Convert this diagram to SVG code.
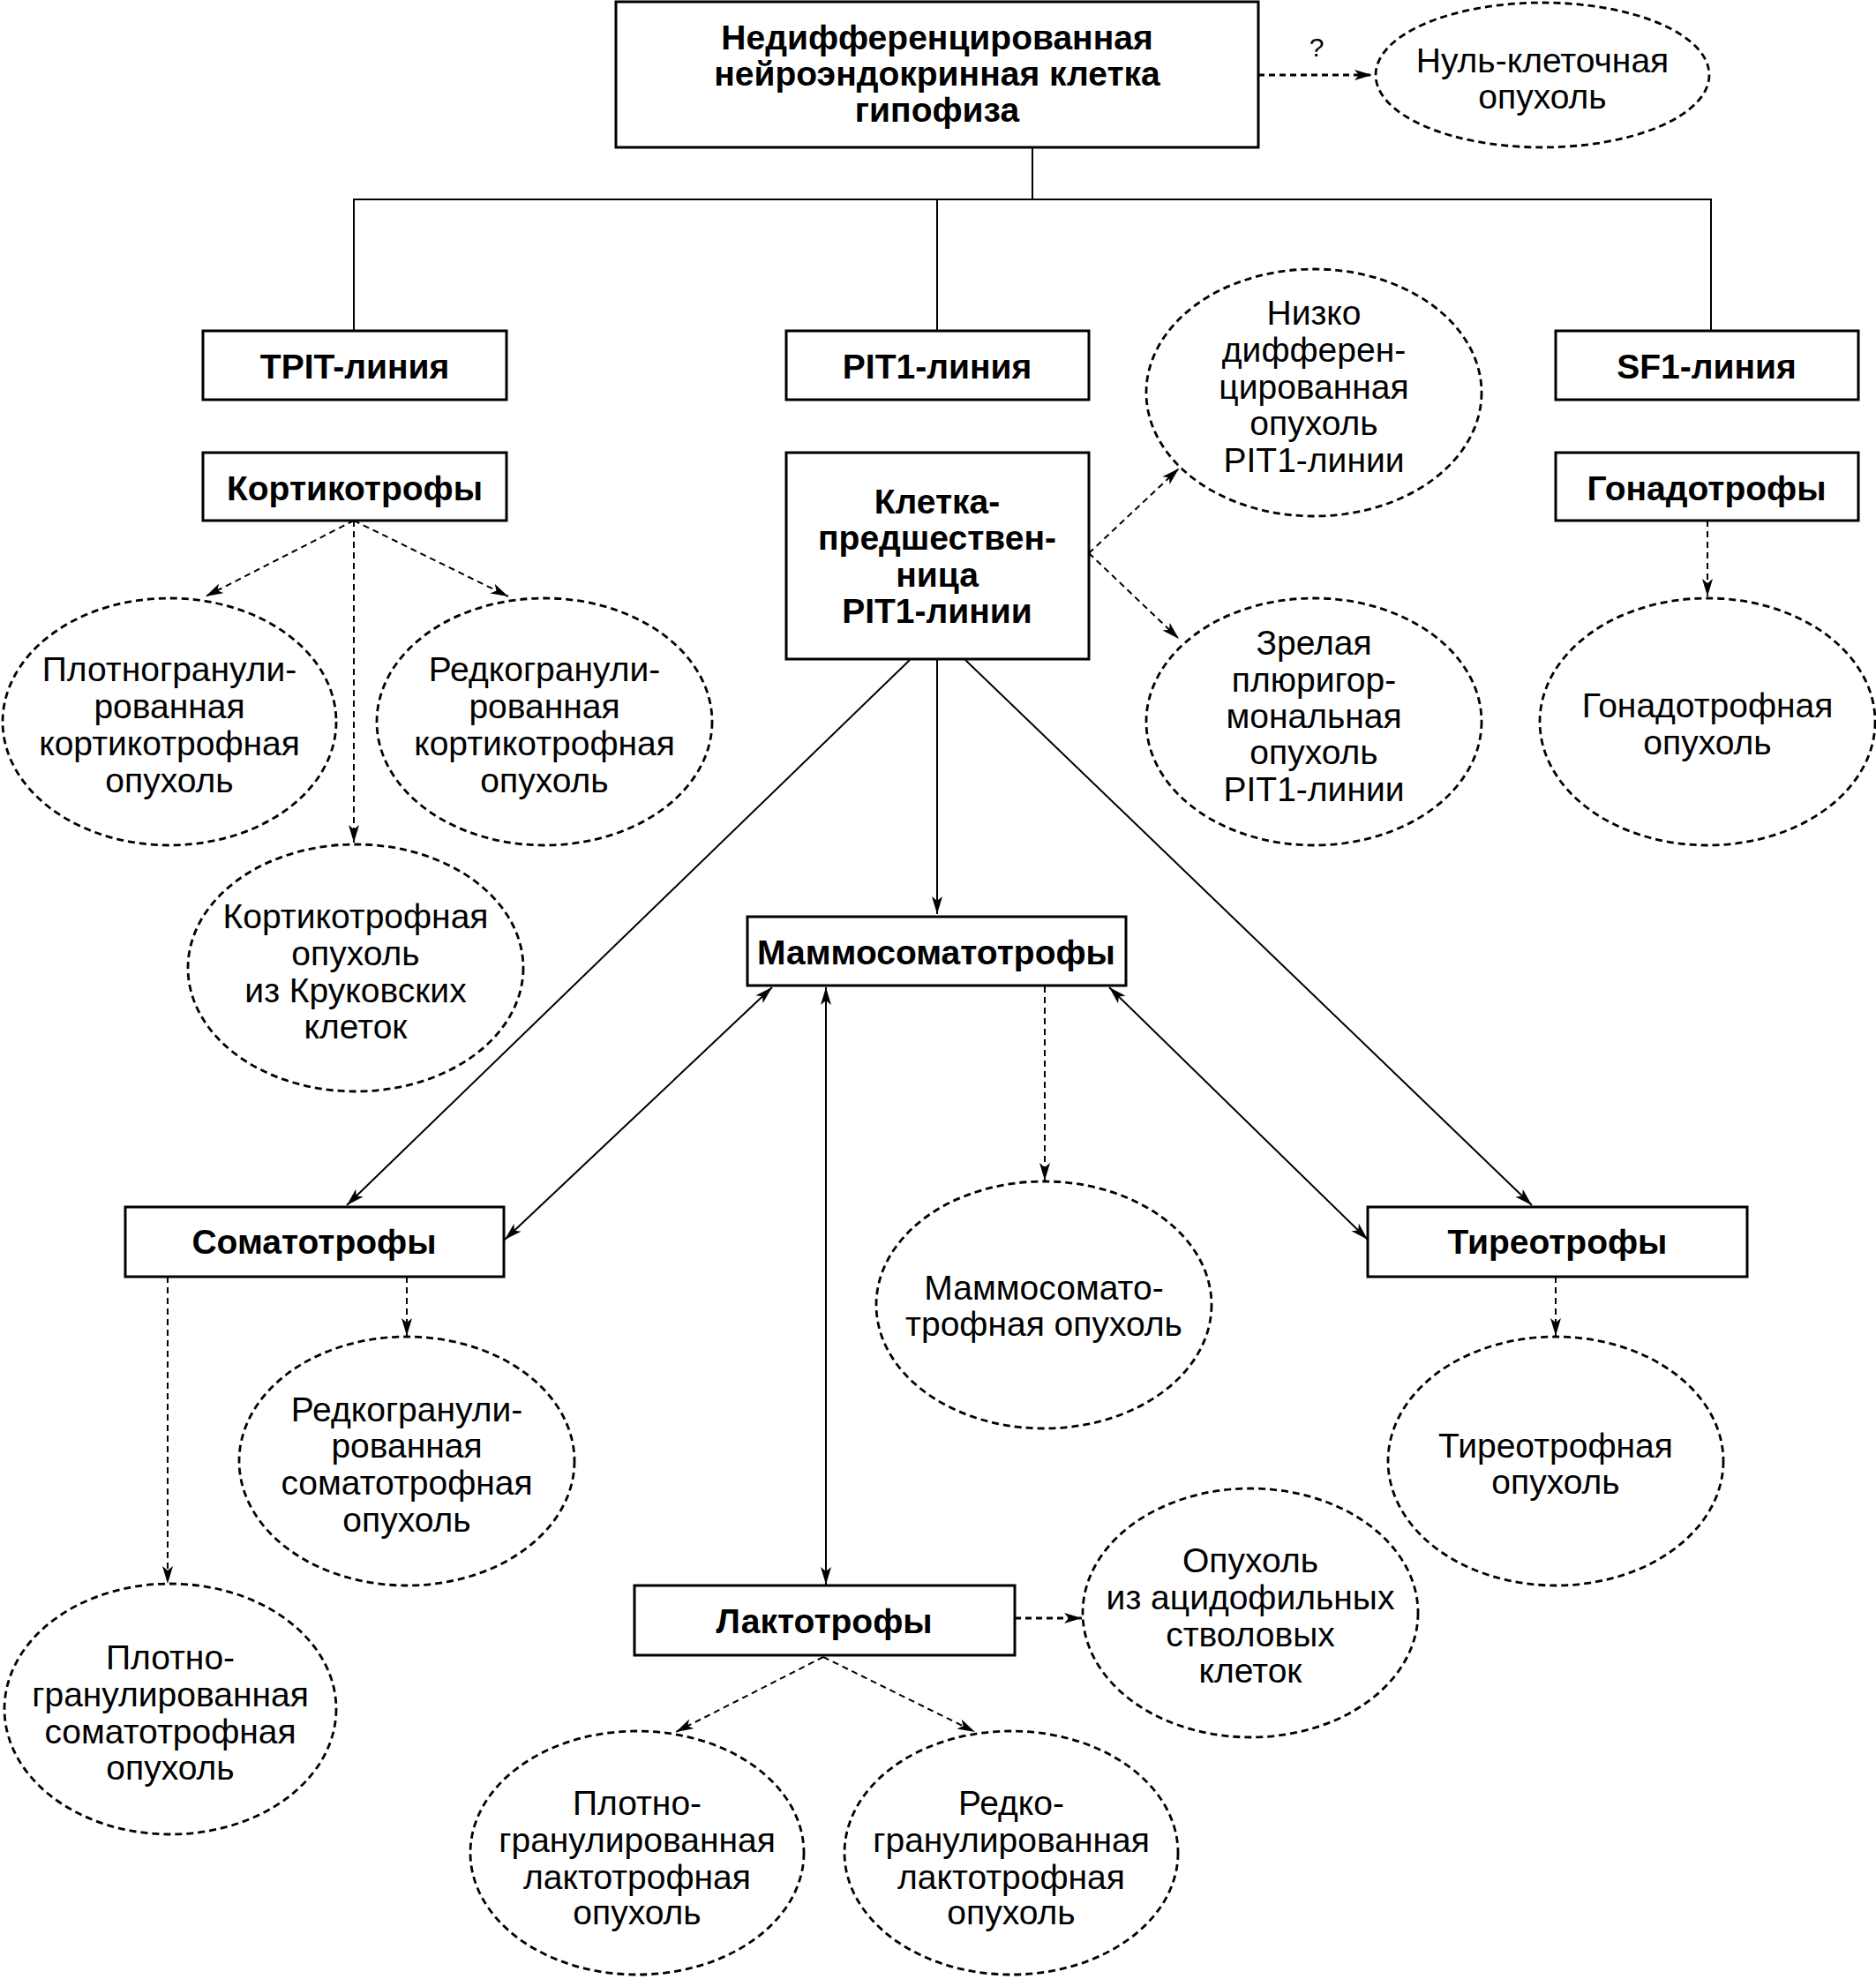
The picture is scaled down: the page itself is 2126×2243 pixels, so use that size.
<svg xmlns="http://www.w3.org/2000/svg" width="2126" height="2243" viewBox="0 0 2126 2243">
<style>
.box{fill:#fff;stroke:#000;stroke-width:3}
.ell{fill:#fff;stroke:#000;stroke-width:2.8;stroke-dasharray:8 5}
.t{font-family:"Liberation Sans",Arial,sans-serif;font-size:39px;text-anchor:middle;fill:#000}
.b{font-family:"Liberation Sans",Arial,sans-serif;font-size:39px;font-weight:bold;text-anchor:middle;fill:#000}
.s{fill:none;stroke:#000;stroke-width:2}
.d{fill:none;stroke:#000;stroke-width:2;stroke-dasharray:7 5}
.dd{fill:none;stroke:#000;stroke-width:3;stroke-dasharray:7 5}
</style>
<defs>
<marker id="ah" markerUnits="userSpaceOnUse" markerWidth="22" markerHeight="14" refX="20" refY="6" orient="auto-start-reverse"><path d="M0,0 L20,6 L0,12 L5,6 z" fill="#000"/></marker>
</defs>
<rect width="2126" height="2243" fill="#fff"/>
<g id="connectors">
<line class="dd" x1="1426" y1="85" x2="1555" y2="85" marker-end="url(#ah)"/>
<text class="t" x="1492" y="64" style="font-size:30px">?</text>
<polyline class="s" points="1170,167 1170,226"/>
<polyline class="s" points="401,375 401,226 1939,226 1939,375"/>
<line class="s" x1="1062" y1="226" x2="1062" y2="375"/>
<line class="d" x1="401" y1="590" x2="233" y2="676" marker-end="url(#ah)"/>
<line class="d" x1="401" y1="590" x2="576" y2="676" marker-end="url(#ah)"/>
<line class="d" x1="401" y1="590" x2="401" y2="955" marker-end="url(#ah)"/>
<line class="d" x1="1234" y1="627" x2="1336" y2="531" marker-end="url(#ah)"/>
<line class="d" x1="1234" y1="627" x2="1336" y2="724" marker-end="url(#ah)"/>
<line class="d" x1="1935" y1="590" x2="1935" y2="676" marker-end="url(#ah)"/>
<line class="s" x1="1062" y1="747" x2="1062" y2="1036" marker-end="url(#ah)"/>
<line class="s" x1="1031" y1="748" x2="393" y2="1366" marker-end="url(#ah)"/>
<line class="s" x1="1094" y1="748" x2="1736" y2="1366" marker-end="url(#ah)"/>
<line class="s" x1="875" y1="1119" x2="572" y2="1405" marker-start="url(#ah)" marker-end="url(#ah)"/>
<line class="s" x1="1257" y1="1119" x2="1550" y2="1405" marker-start="url(#ah)" marker-end="url(#ah)"/>
<line class="s" x1="936" y1="1119" x2="936" y2="1796" marker-start="url(#ah)" marker-end="url(#ah)"/>
<line class="d" x1="1184" y1="1118" x2="1184" y2="1338" marker-end="url(#ah)"/>
<line class="d" x1="190" y1="1447" x2="190" y2="1795" marker-end="url(#ah)"/>
<line class="d" x1="461" y1="1447" x2="461" y2="1514" marker-end="url(#ah)"/>
<line class="d" x1="1763" y1="1447" x2="1763" y2="1514" marker-end="url(#ah)"/>
<line class="dd" x1="1150" y1="1834" x2="1226" y2="1834" marker-end="url(#ah)"/>
<line class="d" x1="933" y1="1878" x2="766" y2="1963" marker-end="url(#ah)"/>
<line class="d" x1="933" y1="1878" x2="1105" y2="1963" marker-end="url(#ah)"/>
</g>
<g id="n-top"><rect class="box" x="698" y="2" width="728" height="165"/>
<text class="b" x="1062" y="56">Недифференцированная</text><text class="b" x="1062" y="97">нейроэндокринная клетка</text><text class="b" x="1062" y="138">гипофиза</text></g>
<g id="n-null"><ellipse class="ell" cx="1748" cy="85" rx="189" ry="82"/>
<text class="t" x="1748" y="82">Нуль-клеточная</text><text class="t" x="1748" y="123">опухоль</text></g>
<g id="n-tpit"><rect class="box" x="230" y="375" width="344" height="78"/><text class="b" x="402" y="429">TPIT-линия</text></g>
<g id="n-pit1"><rect class="box" x="891" y="375" width="343" height="78"/><text class="b" x="1062" y="429">PIT1-линия</text></g>
<g id="n-sf1"><rect class="box" x="1763" y="375" width="343" height="78"/><text class="b" x="1934" y="429">SF1-линия</text></g>
<g id="n-cort"><rect class="box" x="230" y="513" width="344" height="77"/><text class="b" x="402" y="567">Кортикотрофы</text></g>
<g id="n-prec"><rect class="box" x="891" y="513" width="343" height="234"/>
<text class="b" x="1062" y="582">Клетка-</text><text class="b" x="1062" y="623">предшествен-</text><text class="b" x="1062" y="665">ница</text><text class="b" x="1062" y="706">PIT1-линии</text></g>
<g id="n-gon"><rect class="box" x="1763" y="513" width="343" height="77"/><text class="b" x="1934" y="567">Гонадотрофы</text></g>
<g id="n-low"><ellipse class="ell" cx="1489" cy="445" rx="190" ry="140"/>
<text class="t" x="1489" y="368">Низко</text><text class="t" x="1489" y="410">дифферен-</text><text class="t" x="1489" y="452">цированная</text><text class="t" x="1489" y="493">опухоль</text><text class="t" x="1489" y="535">PIT1-линии</text></g>
<g id="n-mature"><ellipse class="ell" cx="1489" cy="818" rx="190" ry="140"/>
<text class="t" x="1489" y="742">Зрелая</text><text class="t" x="1489" y="784">плюригор-</text><text class="t" x="1489" y="825">мональная</text><text class="t" x="1489" y="866">опухоль</text><text class="t" x="1489" y="908">PIT1-линии</text></g>
<g id="n-gont"><ellipse class="ell" cx="1935" cy="818" rx="190" ry="140"/>
<text class="t" x="1935" y="813">Гонадотрофная</text><text class="t" x="1935" y="855">опухоль</text></g>
<g id="n-cort1"><ellipse class="ell" cx="192" cy="818" rx="189" ry="140"/>
<text class="t" x="192" y="772">Плотногранули-</text><text class="t" x="192" y="814">рованная</text><text class="t" x="192" y="856">кортикотрофная</text><text class="t" x="192" y="898">опухоль</text></g>
<g id="n-cort2"><ellipse class="ell" cx="617" cy="818" rx="190" ry="140"/>
<text class="t" x="617" y="772">Редкогранули-</text><text class="t" x="617" y="814">рованная</text><text class="t" x="617" y="856">кортикотрофная</text><text class="t" x="617" y="898">опухоль</text></g>
<g id="n-crooke"><ellipse class="ell" cx="403" cy="1097" rx="190" ry="140"/>
<text class="t" x="403" y="1052">Кортикотрофная</text><text class="t" x="403" y="1094">опухоль</text><text class="t" x="403" y="1136">из Круковских</text><text class="t" x="403" y="1177">клеток</text></g>
<g id="n-mammo"><rect class="box" x="847" y="1039" width="429" height="78"/><text class="b" x="1061" y="1093">Маммосоматотрофы</text></g>
<g id="n-mammot"><ellipse class="ell" cx="1183" cy="1479" rx="190" ry="140"/>
<text class="t" x="1183" y="1473">Маммосомато-</text><text class="t" x="1183" y="1514">трофная опухоль</text></g>
<g id="n-soma"><rect class="box" x="142" y="1368" width="429" height="79"/><text class="b" x="356" y="1421">Соматотрофы</text></g>
<g id="n-thyro"><rect class="box" x="1550" y="1368" width="430" height="79"/><text class="b" x="1765" y="1421">Тиреотрофы</text></g>
<g id="n-soma2"><ellipse class="ell" cx="461" cy="1656" rx="190" ry="141"/>
<text class="t" x="461" y="1611">Редкогранули-</text><text class="t" x="461" y="1652">рованная</text><text class="t" x="461" y="1694">соматотрофная</text><text class="t" x="461" y="1736">опухоль</text></g>
<g id="n-soma1"><ellipse class="ell" cx="193" cy="1937" rx="188" ry="142"/>
<text class="t" x="193" y="1892">Плотно-</text><text class="t" x="193" y="1934">гранулированная</text><text class="t" x="193" y="1976">соматотрофная</text><text class="t" x="193" y="2017">опухоль</text></g>
<g id="n-thyrot"><ellipse class="ell" cx="1763" cy="1656" rx="190" ry="141"/>
<text class="t" x="1763" y="1652">Тиреотрофная</text><text class="t" x="1763" y="1693">опухоль</text></g>
<g id="n-lacto"><rect class="box" x="719" y="1797" width="431" height="79"/><text class="b" x="934" y="1851">Лактотрофы</text></g>
<g id="n-acid"><ellipse class="ell" cx="1417" cy="1828" rx="190" ry="141"/>
<text class="t" x="1417" y="1782">Опухоль</text><text class="t" x="1417" y="1824">из ацидофильных</text><text class="t" x="1417" y="1866">стволовых</text><text class="t" x="1417" y="1907">клеток</text></g>
<g id="n-lacto1"><ellipse class="ell" cx="722" cy="2100" rx="189" ry="138"/>
<text class="t" x="722" y="2057">Плотно-</text><text class="t" x="722" y="2099">гранулированная</text><text class="t" x="722" y="2141">лактотрофная</text><text class="t" x="722" y="2181">опухоль</text></g>
<g id="n-lacto2"><ellipse class="ell" cx="1146" cy="2100" rx="189" ry="138"/>
<text class="t" x="1146" y="2057">Редко-</text><text class="t" x="1146" y="2099">гранулированная</text><text class="t" x="1146" y="2141">лактотрофная</text><text class="t" x="1146" y="2181">опухоль</text></g>
</svg>
